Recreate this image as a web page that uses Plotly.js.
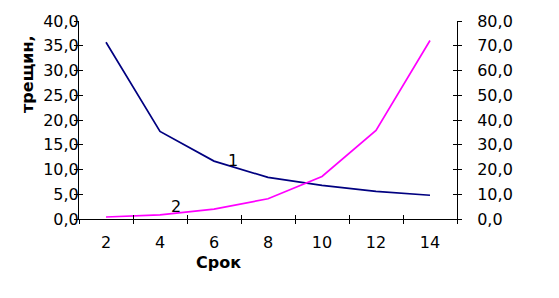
<!DOCTYPE html>
<html>
<head>
<meta charset="utf-8">
<script src="https://cdn.plot.ly/plotly-3.0.1.min.js"></script>
<style>html,body{margin:0;padding:0;background:#fff;}#chart{width:559px;height:298px;}</style>
</head>
<body>
<div id="chart"></div>
<script>
const categories = ['2', '4', '6', '8', '10', '12', '14'];
const series1 = [35.7, 17.7, 11.7, 8.4, 6.8, 5.6, 4.8];
const series2 = [0.8, 1.7, 4.0, 8.2, 17.2, 35.8, 72.1];
const seriesLabels = ['1', '2'];
const xTitle = 'Срок';
const yTitle = 'трещин,';

const font = {family: 'DejaVu Sans, sans-serif', size: 16, color: '#000'};

const traces = [
  {x: categories, y: series1, type: 'scatter', mode: 'lines', line: {color: '#000080', width: 1.7}, yaxis: 'y', hoverinfo: 'skip'},
  {x: categories, y: series2, type: 'scatter', mode: 'lines', line: {color: '#FF00FF', width: 1.7}, yaxis: 'y2', hoverinfo: 'skip'}
];

const common = {showgrid: false, zeroline: false, showline: true, linecolor: '#000', linewidth: 1, ticklen: 4, tickcolor: '#000', tickwidth: 1};

const layout = {
  width: 559, height: 298,
  margin: {l: 79, r: 102, t: 21, b: 79},
  paper_bgcolor: '#fff', plot_bgcolor: '#fff',
  separators: ', ',
  showlegend: false,
  font: font,
  xaxis: Object.assign({}, common, {type: 'category', range: [-0.5, 6.5], ticks: 'inside', tickson: 'boundaries', tickfont: font, ticklabelstandoff: 9}),
  xaxis2: Object.assign({}, common, {type: 'category', range: [-0.5, 6.5], overlaying: 'x', ticks: 'outside', tickson: 'boundaries', showticklabels: false, side: 'bottom', matches: 'x'}),
  yaxis: Object.assign({}, common, {range: [0, 40], dtick: 5, tick0: 0, tickformat: '.1f', ticks: 'inside', tickfont: font, ticklabelstandoff: -4}),
  yaxis2: Object.assign({}, common, {range: [0, 80], dtick: 10, tick0: 0, tickformat: '.1f', ticks: 'inside', side: 'right', overlaying: 'y', tickfont: font, ticklabelstandoff: 16}),
  yaxis3: Object.assign({}, common, {range: [0, 40], dtick: 5, tick0: 0, ticks: 'outside', showticklabels: false, overlaying: 'y', side: 'left'}),
  yaxis4: Object.assign({}, common, {range: [0, 80], dtick: 10, tick0: 0, ticks: 'outside', showticklabels: false, overlaying: 'y', side: 'right'}),
  annotations: [
    {text: seriesLabels[0], xref: 'x', yref: 'y', x: 2.35, y: 11.8, showarrow: false, font: font},
    {text: seriesLabels[1], xref: 'x', yref: 'y2', x: 1.3, y: 5.2, showarrow: false, font: font},
    {text: '<b>' + xTitle + '</b>', xref: 'paper', yref: 'paper', x: (218.7 - 79) / 378, y: -(263 - 219.3) / 198.3, showarrow: false, font: font, xanchor: 'center', yanchor: 'middle'},
    {text: '<b>' + yTitle + '</b>', xref: 'paper', yref: 'paper', x: (28 - 79) / 378, y: (219.3 - 74) / 198.3, showarrow: false, font: font, textangle: -90, xanchor: 'center', yanchor: 'middle'}
  ]
};

// invisible traces that activate the overlay axes carrying the second half of the cross ticks
traces.push({x: categories, y: series1, xaxis: 'x2', yaxis: 'y3', mode: 'lines', line: {width: 0}, opacity: 0, hoverinfo: 'skip', type: 'scatter'});
traces.push({x: categories, y: series2, xaxis: 'x', yaxis: 'y4', mode: 'lines', line: {width: 0}, opacity: 0, hoverinfo: 'skip', type: 'scatter'});

Plotly.newPlot('chart', traces, layout, {staticPlot: true, displayModeBar: false});
</script>
</body>
</html>
